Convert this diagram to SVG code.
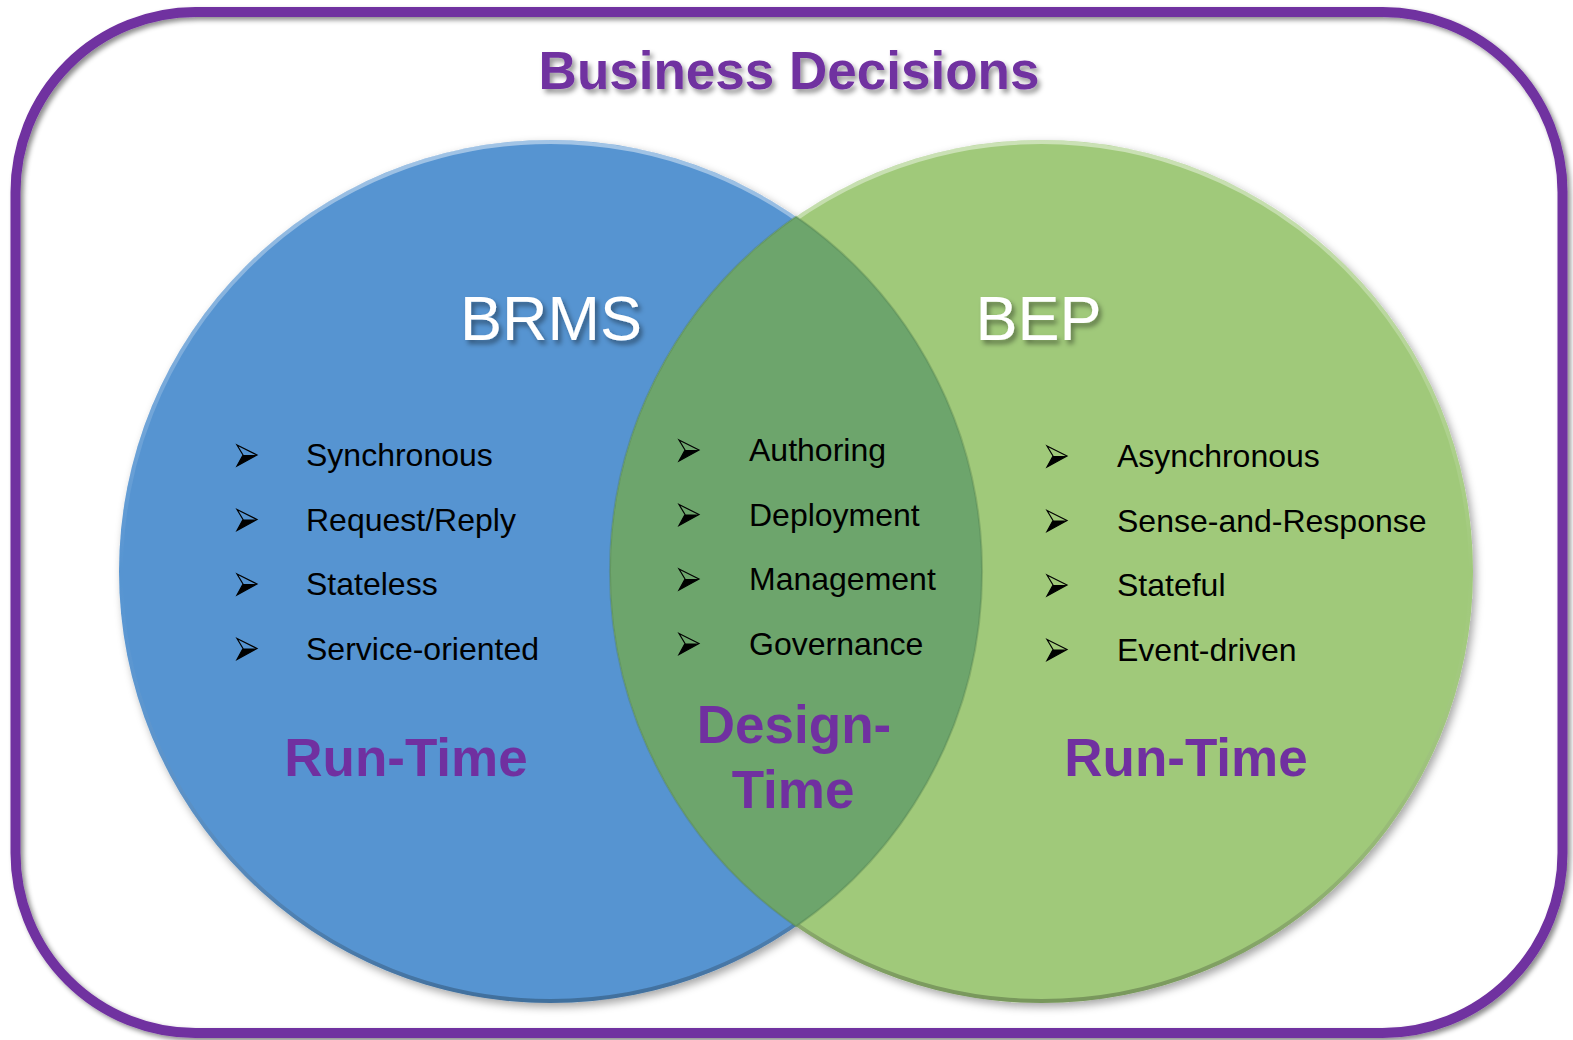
<svg xmlns="http://www.w3.org/2000/svg" width="1573" height="1040" viewBox="0 0 1573 1040">
  <defs>
    <style>
      .title { font-family: "Liberation Sans", Arial, sans-serif; font-weight: bold; font-size: 53px; fill: #7030A0; text-anchor: middle; }
      .head { font-family: "Liberation Sans", Arial, sans-serif; font-size: 63px; fill: #FFFFFF; text-anchor: middle; }
      .item { font-family: "Liberation Sans", Arial, sans-serif; font-size: 32px; fill: #000000; }
      .phase { font-family: "Liberation Sans", Arial, sans-serif; font-weight: bold; font-size: 53px; fill: #7030A0; text-anchor: middle; }
    </style>
    <filter id="shadow" x="-10%" y="-10%" width="120%" height="120%">
      <feDropShadow dx="3" dy="3" stdDeviation="2.5" flood-color="#000" flood-opacity="0.45"/>
    </filter>
    <filter id="tshadow" x="-10%" y="-30%" width="120%" height="160%">
      <feDropShadow dx="3" dy="4" stdDeviation="2.5" flood-color="#000" flood-opacity="0.4"/>
    </filter>
    <filter id="cshadow" x="-10%" y="-10%" width="120%" height="120%">
      <feDropShadow dx="3" dy="4" stdDeviation="4" flood-color="#000" flood-opacity="0.35"/>
    </filter>
    <linearGradient id="rim" x1="0" y1="0" x2="0" y2="1">
      <stop offset="0" stop-color="#FFFFFF" stop-opacity="0.45"/>
      <stop offset="0.5" stop-color="#FFFFFF" stop-opacity="0"/>
      <stop offset="1" stop-color="#000000" stop-opacity="0.25"/>
    </linearGradient>
    <g id="bullet">
      <path d="M0,-10 L20,0 L0,11 L6,0 Z" fill="none" stroke="#000" stroke-width="1.2" stroke-linejoin="miter"/>
      <path d="M6,0 L20,0 L0,11 Z" fill="#000"/>
    </g>
  </defs>

  <rect width="1573" height="1040" fill="#FFFFFF"/>

  <g id="frame">
    <rect x="15.5" y="12" width="1547" height="1021" rx="180" ry="180" fill="none" stroke="#7030A0" stroke-width="10" filter="url(#shadow)"/>
  </g>

  <g id="title">
    <text class="title" x="789" y="89" filter="url(#tshadow)">Business Decisions</text>
  </g>

  <g id="circles" filter="url(#cshadow)">
    <g id="brms-circle">
      <circle cx="550.5" cy="571.5" r="431.5" fill="#5694D1"/>
      <circle cx="550.5" cy="571.5" r="429.5" fill="none" stroke="url(#rim)" stroke-width="4"/>
    </g>
    <g id="bep-circle">
      <circle cx="1041.5" cy="571.5" r="431.5" fill="#A0C97A"/>
      <circle cx="1041.5" cy="571.5" r="429.5" fill="none" stroke="url(#rim)" stroke-width="4"/>
    </g>
    <g id="overlap">
      <path d="M796,216.6 A431.5,431.5 0 0,1 796,926.4 A431.5,431.5 0 0,1 796,216.6 Z" fill="#6DA56C"/>
      <path d="M796,216.6 A431.5,431.5 0 0,1 796,926.4 A431.5,431.5 0 0,1 796,216.6 Z" fill="none" stroke="#4F7F4E" stroke-opacity="0.35" stroke-width="2"/>
    </g>
  </g>

  <g id="brms">
    <text class="head" x="551" y="340" filter="url(#tshadow)">BRMS</text>
    <use href="#bullet" x="237" y="455"/>
    <text class="item" x="306" y="466">Synchronous</text>
    <use href="#bullet" x="237" y="519.5"/>
    <text class="item" x="306" y="530.5">Request/Reply</text>
    <use href="#bullet" x="237" y="584"/>
    <text class="item" x="306" y="595">Stateless</text>
    <use href="#bullet" x="237" y="648.5"/>
    <text class="item" x="306" y="659.5">Service-oriented</text>
    <text class="phase" x="406" y="776">Run-Time</text>
  </g>

  <g id="design">
    <use href="#bullet" x="679" y="450"/>
    <text class="item" x="749" y="461">Authoring</text>
    <use href="#bullet" x="679" y="514.5"/>
    <text class="item" x="749" y="525.5">Deployment</text>
    <use href="#bullet" x="679" y="579"/>
    <text class="item" x="749" y="590">Management</text>
    <use href="#bullet" x="679" y="643.5"/>
    <text class="item" x="749" y="654.5">Governance</text>
    <text class="phase" x="794" y="743">Design-</text>
    <text class="phase" x="793" y="808">Time</text>
  </g>

  <g id="bep">
    <text class="head" x="1038.5" y="340" filter="url(#tshadow)">BEP</text>
    <use href="#bullet" x="1047" y="456"/>
    <text class="item" x="1117" y="467">Asynchronous</text>
    <use href="#bullet" x="1047" y="520.5"/>
    <text class="item" x="1117" y="531.5">Sense-and-Response</text>
    <use href="#bullet" x="1047" y="585"/>
    <text class="item" x="1117" y="596">Stateful</text>
    <use href="#bullet" x="1047" y="649.5"/>
    <text class="item" x="1117" y="660.5">Event-driven</text>
    <text class="phase" x="1186" y="776">Run-Time</text>
  </g>
</svg>
